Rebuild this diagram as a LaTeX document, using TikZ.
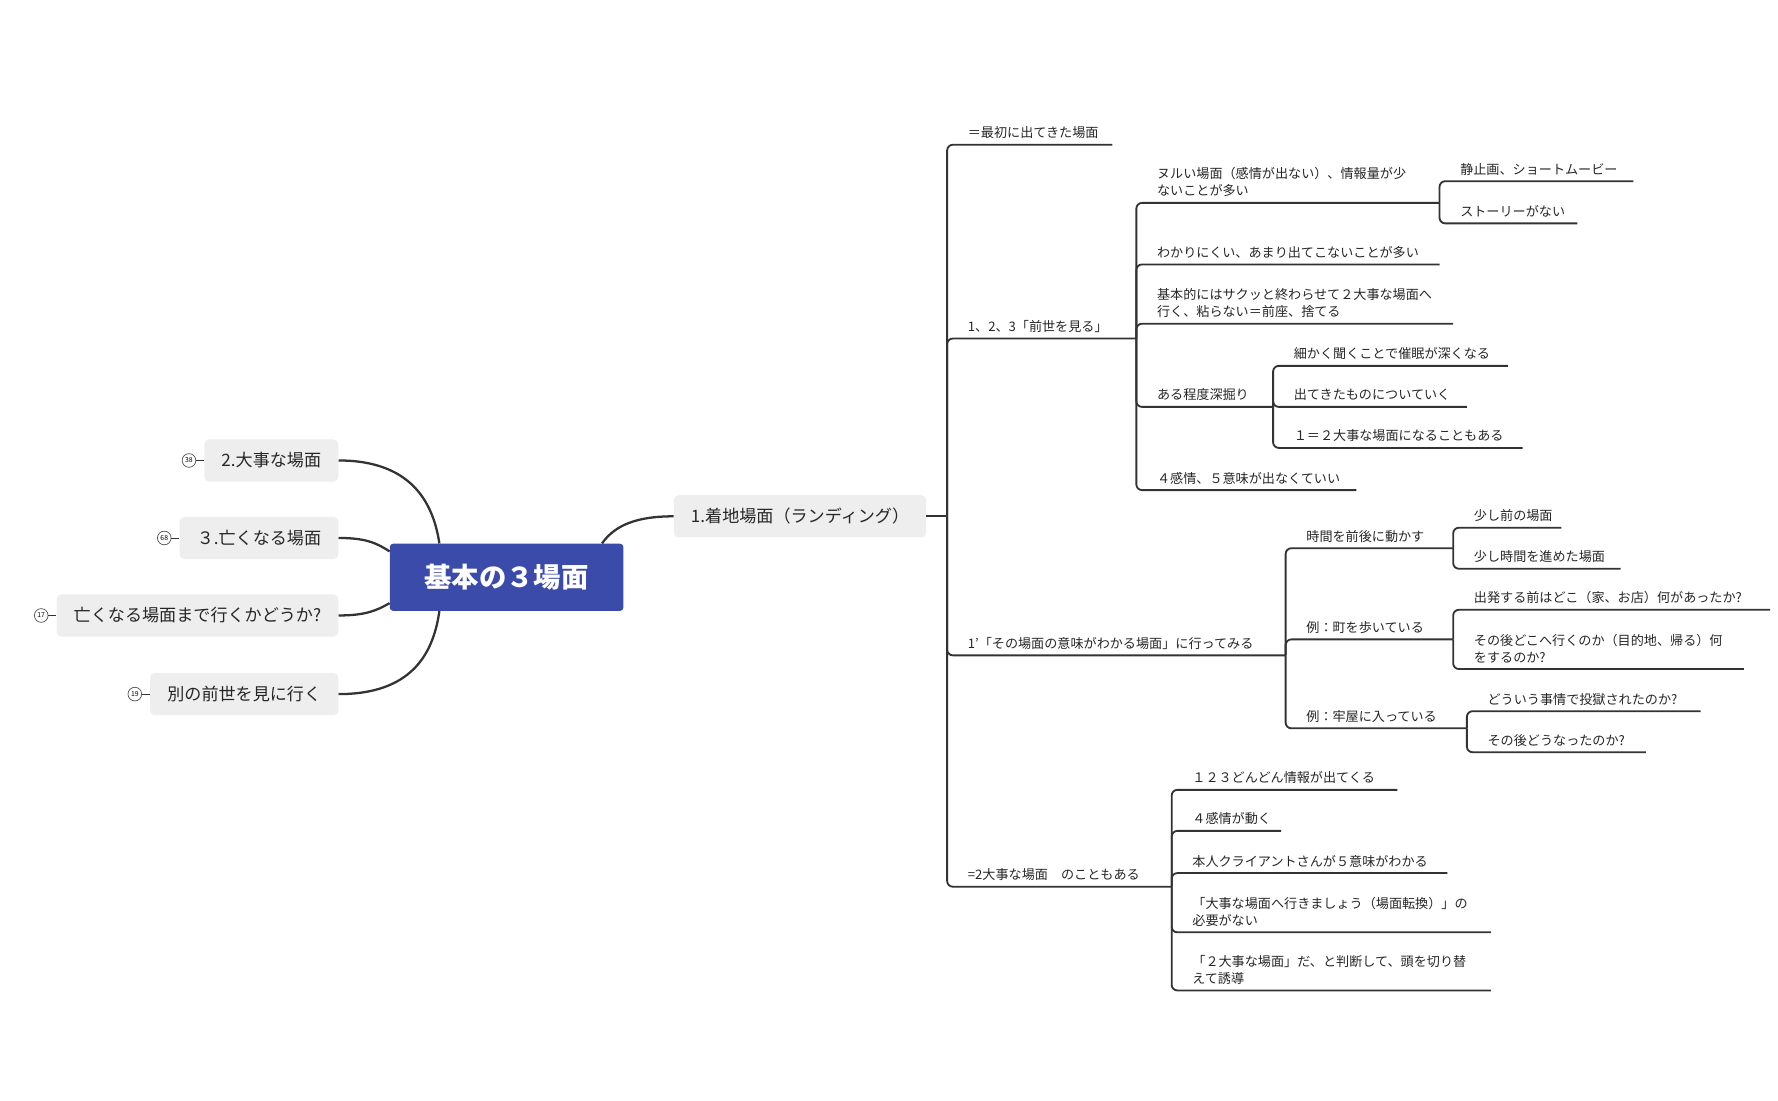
\documentclass[tikz,border=0pt]{standalone}
\usepackage{fontspec}
\setmainfont{Noto Sans CJK JP}
\definecolor{ln}{HTML}{333333}
\definecolor{rootc}{HTML}{3B4BA9}
\definecolor{boxc}{HTML}{EEEEEE}
\begin{document}
\begin{tikzpicture}[x=1pt,y=-1pt,
  conn/.style={draw=ln,line width=1.6pt,rounded corners=5pt},
  curve/.style={draw=ln,line width=2pt},
  txt/.style={anchor=south west,inner sep=0pt,font=\fontsize{11.5}{15}\selectfont,align=left,text=black!85},
  lbox/.style={fill=boxc,rounded corners=4pt,minimum height=37pt,inner xsep=15pt,font=\fontsize{15}{18}\selectfont,text=black!85,anchor=east},
  badge/.style={circle,draw=black!70,line width=0.6pt,inner sep=0pt,minimum size=12pt,font=\fontsize{6}{6}\selectfont}]
\useasboundingbox (0,0) rectangle (1560,966);
\newcommand{\leaf}[5]{\coordinate (#1-s) at (#2,#4);\coordinate (#1-e) at (#3,#4);
  \node[txt] (#1) at (#2+18,#4-5) {#5};}
\newcommand{\br}[2]{\draw[conn] (#1-e) -- (#2-s) -- (#2-e);}
% root
\node[fill=rootc,rounded corners=3pt,minimum width=205pt,minimum height=59pt,text=white,font=\fontsize{24}{28}\selectfont\bfseries] (root) at (444.5,506.5) {基本の３場面};
% left
\node[lbox] (a) at (297,404) {2.大事な場面};
\node[lbox] (b) at (297,472) {３.亡くなる場面};
\node[lbox] (c) at (297,540) {亡くなる場面まで行くかどうか?};
\node[lbox] (d) at (297,609) {別の前世を見に行く};
\foreach \n/\t in {a/38,b/68,c/17,d/19}{
  \node[badge,anchor=east] (\n b) at ([xshift=-7pt]\n.west) {\t};
  \draw[ln,line width=0.8pt] (\n b.east) -- (\n.west);}
\draw[curve] (a.east) .. controls (360,404) and (380,440) .. ([xshift=-59pt]root.north);
\draw[curve] (b.east) .. controls (320,472) and (330,476) .. ([yshift=-7pt]root.north west);
\draw[curve] (c.east) .. controls (320,540) and (330,536) .. ([yshift=7pt]root.south west);
\draw[curve] (d.east) .. controls (360,609) and (380,575) .. ([xshift=-59pt]root.south);
% right main
\node[fill=boxc,rounded corners=4pt,minimum height=37pt,inner xsep=15pt,font=\fontsize{15}{18}\selectfont,text=black!85,anchor=west] (L1) at (591,453) {1.着地場面（ランディング）};
\draw[curve] ([xshift=-19pt]root.north east) .. controls (540,460) and (560,453) .. (L1.west);
\coordinate (L1-e) at (831,453);
\draw[conn] (L1.east) -- (L1-e);
% level 2
\leaf{p1}{831}{976}{127}{＝最初に出てきた場面}
\leaf{p2}{831}{997}{297}{1、2、3「前世を見る」}
\leaf{p3}{831}{1128}{575}{1'「その場面の意味がわかる場面」に行ってみる}
\leaf{p4}{831}{1028}{778}{=2大事な場面　のこともある}
\foreach \c in {p1,p2,p3,p4}{\br{L1}{\c}}
% under p2
\leaf{q1}{997}{1263}{178}{ヌルい場面（感情が出ない）、情報量が少\\ないことが多い}
\leaf{q2}{997}{1263}{232}{わかりにくい、あまり出てこないことが多い}
\leaf{q3}{997}{1275}{284}{基本的にはサクッと終わらせて２大事な場面へ\\行く、粘らない＝前座、捨てる}
\leaf{q4}{997}{1117}{357}{ある程度深掘り}
\leaf{q5}{997}{1190}{430}{４感情、５意味が出なくていい}
\foreach \c in {q1,q2,q3,q4,q5}{\br{p2}{\c}}
\leaf{r1}{1263}{1433}{159}{静止画、ショートムービー}
\leaf{r2}{1263}{1384}{196}{ストーリーがない}
\br{q1}{r1}\br{q1}{r2}
\leaf{s1}{1117}{1323}{321}{細かく聞くことで催眠が深くなる}
\leaf{s2}{1117}{1287}{357}{出てきたものについていく}
\leaf{s3}{1117}{1336}{393}{１＝２大事な場面になることもある}
\br{q4}{s1}\br{q4}{s2}\br{q4}{s3}
% under p3
\leaf{t1}{1128}{1275}{481}{時間を前後に動かす}
\leaf{t2}{1128}{1275}{561}{例：町を歩いている}
\leaf{t3}{1128}{1287}{639}{例：牢屋に入っている}
\br{p3}{t1}\br{p3}{t2}\br{p3}{t3}
\leaf{u1}{1275}{1370}{463}{少し前の場面}
\leaf{u2}{1275}{1422}{499}{少し時間を進めた場面}
\br{t1}{u1}\br{t1}{u2}
\leaf{v1}{1275}{1553}{535}{出発する前はどこ（家、お店）何があったか?}
\leaf{v2}{1275}{1530}{587}{その後どこへ行くのか（目的地、帰る）何\\をするのか?}
\br{t2}{v1}\br{t2}{v2}
\leaf{w1}{1287}{1492}{624}{どういう事情で投獄されたのか?}
\leaf{w2}{1287}{1444}{660}{その後どうなったのか?}
\br{t3}{w1}\br{t3}{w2}
% under p4
\leaf{x1}{1028}{1226}{693}{１２３どんどん情報が出てくる}
\leaf{x2}{1028}{1124}{729}{４感情が動く}
\leaf{x3}{1028}{1270}{766}{本人クライアントさんが５意味がわかる}
\leaf{x4}{1028}{1308}{818}{「大事な場面へ行きましょう（場面転換）」の\\必要がない}
\leaf{x5}{1028}{1308}{869}{「２大事な場面」だ、と判断して、頭を切り替\\えて誘導}
\foreach \c in {x1,x2,x3,x4,x5}{\br{p4}{\c}}
\end{tikzpicture}
\end{document}
